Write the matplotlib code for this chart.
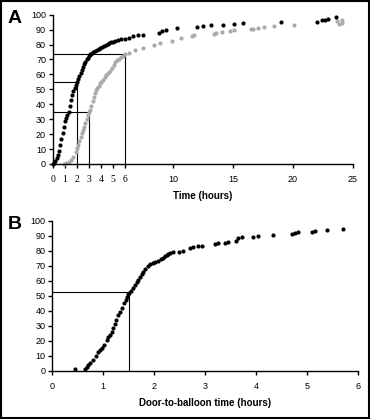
import numpy as np
import matplotlib as mpl
mpl.use('Agg')
import matplotlib.pyplot as plt
from matplotlib.patches import Rectangle

plt.rcParams['font.family'] = ['Liberation Sans', 'DejaVu Sans']

# Panel A, black series (time in hours, cumulative %)
a_black_x = [0.0, 0.1, 0.2, 0.3, 0.4, 0.5, 0.6, 0.7, 0.8, 0.9,
             1.0, 1.1, 1.2, 1.3, 1.4, 1.5, 1.6, 1.7, 1.8, 1.9,
             2.0, 2.1, 2.2, 2.3, 2.4, 2.5, 2.6, 2.7, 2.8, 2.9,
             3.0, 3.1, 3.2, 3.35, 3.5, 3.65, 3.8, 3.95, 4.1, 4.25,
             4.4, 4.55, 4.7, 4.85, 5.0, 5.2, 5.45, 5.7, 6.0, 6.3,
             6.7, 7.1, 7.5, 8.8, 9.1, 9.4, 10.3, 12.0, 12.5, 13.2,
             14.2, 15.1, 15.8, 19.0, 22.0, 22.4, 22.7, 22.9, 23.6]
a_black_y = [0, 1, 2, 4, 6, 9, 13, 17, 21, 25,
             29, 31, 33, 35, 39, 43, 46, 49, 51, 53,
             55, 57, 59, 61, 63, 65, 67, 68.5, 70, 71,
             72.5, 73.5, 74, 74.8, 75.5, 76.2, 76.8, 77.5, 78.2, 79,
             79.7, 80.3, 80.9, 81.4, 82, 82.5, 83, 83.5, 83.8, 84.4,
             85.5, 86.2, 86.4, 87.7, 89, 89.5, 90.9, 92, 92.4, 92.9,
             93.3, 93.8, 94.4, 94.9, 95.3, 96.2, 96.6, 97.1, 98.2]

# Panel A, grey series
a_grey_x = [0.9, 1.1, 1.3, 1.5, 1.7, 1.9, 2.0, 2.1, 2.2, 2.3,
            2.4, 2.5, 2.6, 2.7, 2.8, 2.9, 3.0, 3.1, 3.2, 3.3,
            3.4, 3.5, 3.6, 3.7, 3.8, 3.9, 4.0, 4.15, 4.3, 4.45,
            4.6, 4.75, 4.9, 5.05, 5.2, 5.35, 5.5, 5.65, 5.8, 6.0,
            6.3, 6.8, 7.5, 8.4, 8.9, 9.9, 10.7, 11.6, 11.75, 13.4,
            13.6, 14.1, 14.75, 15.1, 16.5, 16.7, 17.1, 17.6, 18.4, 20.1,
            23.7, 23.8, 24.05, 24.05]
a_grey_y = [0, 0.5, 1.5, 3, 5, 8, 10.5, 13, 15.5, 18,
            20.5, 23, 25, 27.5, 30, 32.5, 35, 36.5, 39, 42,
            45, 47.5, 49.5, 51, 52.5, 54, 55, 56.5, 58, 59.5,
            60.7, 62, 64, 66, 68, 69.6, 70.5, 71.5, 72.5, 73.8,
            74.5, 76.4, 77.5, 79.7, 81.2, 82.4, 84.6, 86, 86.4, 87,
            88, 88.4, 89.1, 89.8, 90.4, 90.4, 91.1, 91.8, 92.4, 92.9,
            95.8, 93.8, 94.3, 96.5]

# Panel A reference lines: (hours, percent)
a_refs = [(2, 55), (3, 35), (6, 73.5)]
a_ticks = [0, 1, 2, 3, 4, 5, 6, 10, 15, 20, 25]

# Panel B, door-to-balloon time
b_x = [0.45, 0.64, 0.68, 0.71, 0.75, 0.8, 0.85, 0.9, 0.94, 0.97,
       1.02, 1.07, 1.1, 1.13, 1.17, 1.2, 1.23, 1.25, 1.29, 1.33,
       1.37, 1.4, 1.44, 1.46, 1.49, 1.51, 1.55, 1.59, 1.62, 1.66,
       1.69, 1.72, 1.76, 1.79, 1.83, 1.87, 1.92, 1.97, 2.02, 2.08,
       2.13, 2.18, 2.22, 2.25, 2.28, 2.31, 2.38, 2.48, 2.57, 2.7,
       2.77, 2.87, 2.94, 3.2, 3.26, 3.39, 3.46, 3.61, 3.65, 3.72,
       3.95, 4.05, 4.34, 4.7, 4.77, 4.83, 5.1, 5.16, 5.39, 5.72]
b_y = [1.1, 1.1, 2.5, 4, 5.5, 7.3, 10, 12.9, 14, 15,
       17.5, 20.7, 22.5, 24, 26, 28.4, 31, 34, 37, 39.5,
       42, 45, 47.5, 49.5, 51, 52.2, 53.5, 55, 57, 59,
       60.7, 62.5, 64.5, 66, 68, 70, 71.5, 72.2, 72.9, 73.5,
       74.5, 75.5, 76.5, 77.3, 78, 78.5, 79.5, 79.5, 80.2, 81.8,
       82.9, 83.5, 83.5, 84.7, 85.1, 85.5, 85.8, 86.9, 88.4, 89.1,
       89.5, 90.2, 90.7, 91.3, 91.8, 92.7, 92.9, 93.3, 94, 94.7]
b_refs = [(1.5, 52.5)]


def style_axis(ax):
    for s in ['top', 'right']:
        ax.spines[s].set_visible(False)
    for s in ['left', 'bottom']:
        ax.spines[s].set_linewidth(1.0)
    ax.tick_params(direction='out', length=3, width=1.0, labelsize=6.5, pad=2)
    ax.set_ylim(0, 100)
    ax.set_yticks(np.arange(0, 101, 10))


def ref_lines(ax, refs):
    for rx, ry in refs:
        ax.plot([0, rx], [ry, ry], color='black', lw=0.8)
        ax.plot([rx, rx], [0, ry], color='black', lw=0.8)


fig = plt.figure(figsize=(3.7, 4.19), dpi=100)

# panel A
ax_a = fig.add_axes([0.1432, 0.6086, 0.8108, 0.3563])
style_axis(ax_a)
ax_a.set_xlim(0, 25)
ref_lines(ax_a, a_refs)
ax_a.plot(a_grey_x, a_grey_y, 'o', color='#aaaaaa', ms=3.0, mec='none', clip_on=False)
ax_a.plot(a_black_x, a_black_y, 'o', color='black', ms=3.0, mec='none', clip_on=False)
ax_a.set_xticks(a_ticks)
ax_a.set_xticklabels([str(t) for t in a_ticks])
for lab, t in zip(ax_a.get_xticklabels(), a_ticks):
    if t <= 6:
        lab.set_fontfamily('Liberation Serif')
        lab.set_fontsize(7)
ax_a.tick_params(axis='x', pad=5)
ax_a.set_xlabel('Time (hours)', fontsize=7, fontweight='bold', labelpad=5)
fig.text(0.02, 0.955, 'A', fontsize=14, fontweight='bold', va='center', ha='left')

# panel B
ax_b = fig.add_axes([0.1414, 0.1146, 0.8254, 0.358])
style_axis(ax_b)
ax_b.set_xlim(0, 6)
ax_b.set_xticks(np.arange(0, 7, 1))
ref_lines(ax_b, b_refs)
ax_b.plot(b_x, b_y, 'o', color='black', ms=3.0, mec='none', clip_on=False)
ax_b.tick_params(axis='x', pad=5)
ax_b.set_xlabel('Door-to-balloon time (hours)', fontsize=7, fontweight='bold', labelpad=5)
fig.text(0.02, 0.465, 'B', fontsize=14, fontweight='bold', va='center', ha='left')

# outer frame
fig.patches.append(Rectangle((0.004, 0.003), 0.992, 0.994, transform=fig.transFigure,
                             fill=False, edgecolor='black', lw=1.5))

fig.savefig('out.png', dpi=100)
